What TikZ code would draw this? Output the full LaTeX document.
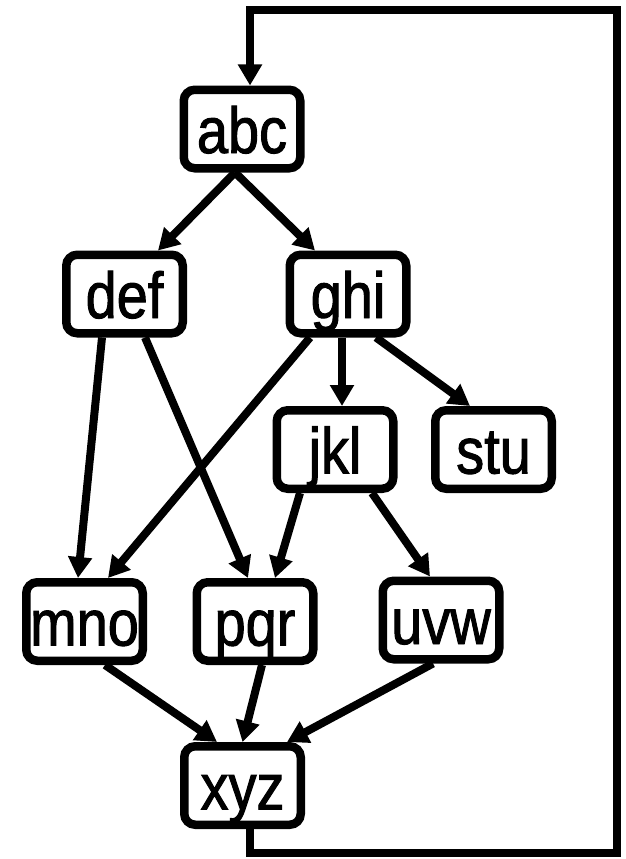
\documentclass[tikz,border=0pt]{standalone}
\usepackage{fontspec}
\setmainfont{Liberation Sans}[FakeStretch=0.86, FakeBold=1.5]
\usetikzlibrary{arrows.meta}

\tikzset{
  box/.style={draw, line width=8.5pt, rounded corners=11pt, minimum width=116.5pt,
    minimum height=78.5pt, inner sep=0pt, text height=48pt, text depth=0pt,
    font=\fontsize{65}{70}\selectfont},
  link/.style={line width=8pt, -{Triangle[length=21pt,width=23pt]}},
}

\begin{document}
\begin{tikzpicture}[x=1pt, y=-1pt]
  \useasboundingbox (0,0) rectangle (625,859);

  % nodes
  \node[box] (abc) at (242,129) {abc};
  \node[box] (def) at (124.5,294) {def};
  \node[box] (ghi) at (348,294) {ghi};
  \node[box] (jkl) at (335,449.5) {jkl};
  \node[box] (stu) at (493.5,449.5) {stu};
  \node[box] (mno) at (84.5,621.5) {mno};
  \node[box] (pqr) at (255,621.5) {pqr};
  \node[box] (uvw) at (441,620) {uvw};
  \node[box] (xyz) at (242.5,785.5) {xyz};

  % edges between levels
  \draw[link] ([xshift=-7pt]abc.south) -- ([xshift=33.5pt]def.north);
  \draw[link] ([xshift=-7pt]abc.south) -- ([xshift=-33pt]ghi.north);
  \draw[link] ([xshift=-22.5pt]def.south) -- ([xshift=-6.5pt]mno.north);
  \draw[link] ([xshift=20.5pt]def.south) -- ([xshift=-7pt]pqr.north);
  \draw[link] ([xshift=-38pt]ghi.south) -- ([xshift=23.5pt]mno.north);
  \draw[link] ([xshift=-6pt]ghi.south) -- ([xshift=7pt]jkl.north);
  \draw[link] ([xshift=28pt]ghi.south) -- ([xshift=-23.5pt]stu.north);
  \draw[link] ([xshift=-35pt]jkl.south) -- ([xshift=20pt]pqr.north);
  \draw[link] ([xshift=37pt]jkl.south) -- ([xshift=-11pt]uvw.north);
  \draw[link] ([xshift=20.5pt]mno.south) -- ([xshift=-25.5pt]xyz.north);
  \draw[link] ([xshift=7pt]pqr.south) -- (xyz.north);
  \draw[link] ([xshift=-8pt]uvw.south) -- ([xshift=44.5pt]xyz.north);

  % feedback loop from xyz back to abc
  \coordinate (loopBR) at (617,853);
  \coordinate (loopTR) at (617,10.5);
  \draw[link] ([xshift=7.5pt]xyz.south) |- (loopBR) -- (loopTR)
    -| ([xshift=8pt]abc.north);
\end{tikzpicture}
\end{document}
